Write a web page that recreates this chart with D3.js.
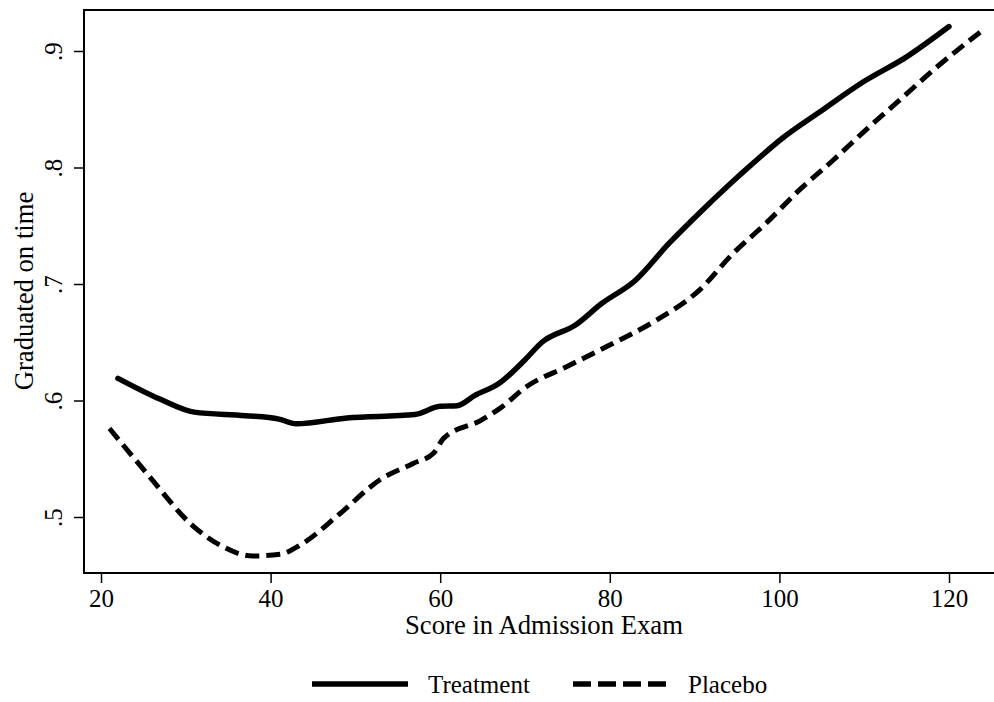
<!DOCTYPE html>
<html>
    <head>
        <meta http-equiv="Content-Type" content="text/html; charset=UTF-8">
        <script src="https://d3js.org/d3.v7.min.js"></script>
        <style>
            html, body {
                margin: 0;
                padding: 0;
                background-color: white;
            }
            svg text {
                font-family: 'Liberation Serif', 'Times New Roman', serif;
                fill: black;
            }
        </style>
        <title>Graduated on time</title>
    </head>
    <body>
        <script>
            var ww = 994;
            var hh = 702;

            var treatX = [22, 27, 31, 37, 41, 43, 49, 57, 60, 62, 64, 67, 70, 72, 76, 79, 83, 87, 91, 95.4, 100.5, 105, 110, 115, 120];
            var treatY = [0.619, 0.601, 0.590, 0.587, 0.584, 0.580, 0.585, 0.588, 0.595, 0.5955, 0.604, 0.615, 0.635, 0.650, 0.665, 0.683, 0.703, 0.735, 0.764, 0.794, 0.826, 0.849, 0.874, 0.895, 0.921];
            var placX = [21, 25.4, 30.9, 34, 37.9, 41.1, 43.5, 48.2, 52.9, 56.8, 59.2, 60.4, 64.8, 67, 70.2, 74.9, 80.1, 85.5, 90.6, 94.5, 98.4, 102.4, 106.3, 110.3, 114.2, 118.2, 124];
            var placY = [0.576, 0.5375, 0.492, 0.476, 0.4665, 0.468, 0.476, 0.503, 0.532, 0.546, 0.5547, 0.5675, 0.583, 0.593, 0.612, 0.629, 0.648, 0.669, 0.695, 0.726, 0.752, 0.781, 0.806, 0.833, 0.858, 0.884, 0.918];
            var xTicks = [20, 40, 60, 80, 100, 120];
            var yTicks = [0.5, 0.6, 0.7, 0.8, 0.9];
            var legendNames = ['Treatment', 'Placebo'];

            var frame = {left: 84, top: 10, bottom: 573, right: ww};

            var x = d3.scaleLinear().domain([20, 120]).range([101, 949]);
            var y = d3.scaleLinear().domain([0.5, 0.9]).range([517, 51]);

            var svg = d3.select('body').append('svg').attr('width', ww).attr('height', hh);

            svg.append('clipPath').attr('id', 'plotclip').append('rect')
                .attr('x', frame.left).attr('y', frame.top)
                .attr('width', frame.right - frame.left).attr('height', frame.bottom - frame.top);

            // frame: left, top, bottom (right side runs off the picture)
            svg.append('path')
                .attr('d', 'M' + frame.right + ',' + frame.top + 'H' + frame.left + 'V' + frame.bottom + 'H' + frame.right)
                .attr('fill', 'none').attr('stroke', 'black').attr('stroke-width', 2);

            var xAxis = svg.append('g').attr('transform', 'translate(0,' + frame.bottom + ')')
                .call(d3.axisBottom(x).tickValues(xTicks).tickSize(10).tickPadding(6).tickFormat(d3.format('d')));
            var yAxis = svg.append('g').attr('transform', 'translate(' + frame.left + ',0)')
                .call(d3.axisLeft(y).tickValues(yTicks).tickSize(10).tickFormat(function(d) {
                    return d3.format('.1f')(d).replace(/^0/, '');
                }));
            [xAxis, yAxis].forEach(function(a) {
                a.select('.domain').remove();
                a.selectAll('.tick line').attr('stroke', 'black').attr('stroke-width', 1.5);
                a.selectAll('.tick text').style('font-size', '25px').style('font-family', "'Liberation Serif', serif").attr('fill', 'black');
            });
            yAxis.selectAll('.tick text')
                .attr('x', null).attr('dy', null).attr('text-anchor', 'middle')
                .attr('transform', 'translate(-22,0) rotate(-90)');

            svg.append('text').attr('x', 544).attr('y', 634)
                .attr('text-anchor', 'middle').style('font-size', '26.7px').text('Score in Admission Exam');
            svg.append('text').attr('transform', 'translate(33,291) rotate(-90)')
                .attr('text-anchor', 'middle').style('font-size', '26.7px').text('Graduated on time');

            var line = d3.line()
                .x(function(d) { return x(d[0]); })
                .y(function(d) { return y(d[1]); })
                .curve(d3.curveMonotoneX);

            var plot = svg.append('g').attr('clip-path', 'url(#plotclip)');
            plot.append('path').datum(d3.zip(treatX, treatY))
                .attr('d', line).attr('fill', 'none').attr('stroke', 'black')
                .attr('stroke-width', 5.5).attr('stroke-linecap', 'round').attr('stroke-linejoin', 'round');
            plot.append('path').datum(d3.zip(placX, placY))
                .attr('d', line).attr('fill', 'none').attr('stroke', 'black')
                .attr('stroke-width', 5).attr('stroke-dasharray', '14,7');

            // legend
            var leg = svg.append('g');
            leg.append('line').attr('x1', 312).attr('x2', 408).attr('y1', 684).attr('y2', 684)
                .attr('stroke', 'black').attr('stroke-width', 5.5);
            leg.append('text').attr('x', 428).attr('y', 693).style('font-size', '25px').text(legendNames[0]);
            leg.append('line').attr('x1', 573).attr('x2', 669).attr('y1', 684).attr('y2', 684)
                .attr('stroke', 'black').attr('stroke-width', 5.5).attr('stroke-dasharray', '18,7');
            leg.append('text').attr('x', 688).attr('y', 693).style('font-size', '25px').text(legendNames[1]);
        </script>
    </body>
</html>
